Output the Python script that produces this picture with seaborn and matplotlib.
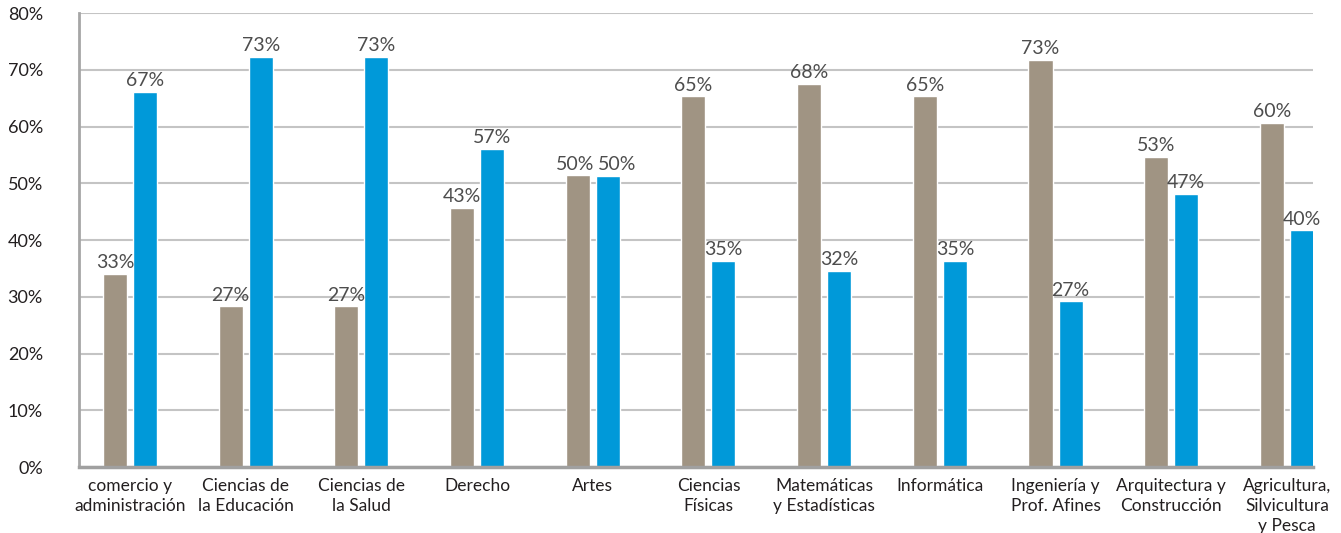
import numpy as np
import pandas as pd
import matplotlib
matplotlib.use("Agg")
import matplotlib.pyplot as plt
import seaborn as sns

# categorias (areas de estudio)
areas = ["comercio y\nadministración", "Ciencias de\nla Educación", "Ciencias de\nla Salud",
         "Derecho", "Artes", "Ciencias\nFísicas", "Matemáticas\ny Estadísticas",
         "Informática", "Ingeniería y\nProf. Afines", "Arquitectura y\nConstrucción",
         "Agricultura,\nSilvicultura\ny Pesca"]

# alturas de barra (%)
hombres = [34.0, 28.3, 28.3, 45.6, 51.4, 65.3, 67.5, 65.3, 71.8, 54.7, 60.6]
mujeres = [66.1, 72.3, 72.3, 56.1, 51.3, 36.3, 34.5, 36.3, 29.2, 48.1, 41.7]

# etiquetas impresas sobre las barras
hombres_lbl = ["33%", "27%", "27%", "43%", "50%", "65%", "68%", "65%", "73%", "53%", "60%"]
mujeres_lbl = ["67%", "73%", "73%", "57%", "50%", "35%", "32%", "35%", "27%", "47%", "40%"]

y_ticks = [0, 10, 20, 30, 40, 50, 60, 70, 80]

df = pd.DataFrame({
    "area": areas * 2,
    "sexo": ["Hombres"] * len(areas) + ["Mujeres"] * len(areas),
    "pct": hombres + mujeres,
})

sns.set_style("white")
plt.rcParams["font.family"] = ["Lato", "DejaVu Sans"]

fig = plt.figure(figsize=(13.41, 5.33), dpi=100)
ax = fig.add_axes([0.0589, 0.1238, 0.9202, 0.8518])

sns.barplot(data=df, x="area", y="pct", hue="sexo", order=areas,
            palette={"Hombres": "#A09483", "Mujeres": "#0099D9"},
            width=0.52, gap=0.2, saturation=1, legend=False, ax=ax)

texts = []
for cont, lbls in zip(ax.containers, [hombres_lbl, mujeres_lbl]):
    texts.append(ax.bar_label(cont, labels=lbls, padding=2, fontsize=14, color="#4d4d4d"))

# las dos etiquetas de Artes se separan un poco
texts[0][4].xyann = (-1.5, 2)
texts[1][4].xyann = (7, 2)

ax.set_ylim(0, 80)
ax.set_xlim(-0.44, 10.225)
ax.set_yticks(y_ticks)
ax.set_yticklabels([f"{t}%" for t in y_ticks])
ax.yaxis.grid(True, color="#c4c4c4", linewidth=1.5)
ax.set_axisbelow(True)
ax.set_xlabel("")
ax.set_ylabel("")

for s in ["top", "right"]:
    ax.spines[s].set_visible(False)
ax.spines["left"].set_color("#a6a6a6")
ax.spines["left"].set_linewidth(2)
ax.spines["bottom"].set_color("#a0a0a0")
ax.spines["bottom"].set_linewidth(2.5)

ax.tick_params(axis="y", length=13, width=2, color="#a6a6a6", pad=13,
               labelsize=13, labelcolor="#231f20")
ax.tick_params(axis="x", length=0, pad=8, labelsize=12.5, labelcolor="#231f20")
for t in ax.get_xticklabels():
    t.set_linespacing(1.3)

fig.savefig("out.png", dpi=100)
